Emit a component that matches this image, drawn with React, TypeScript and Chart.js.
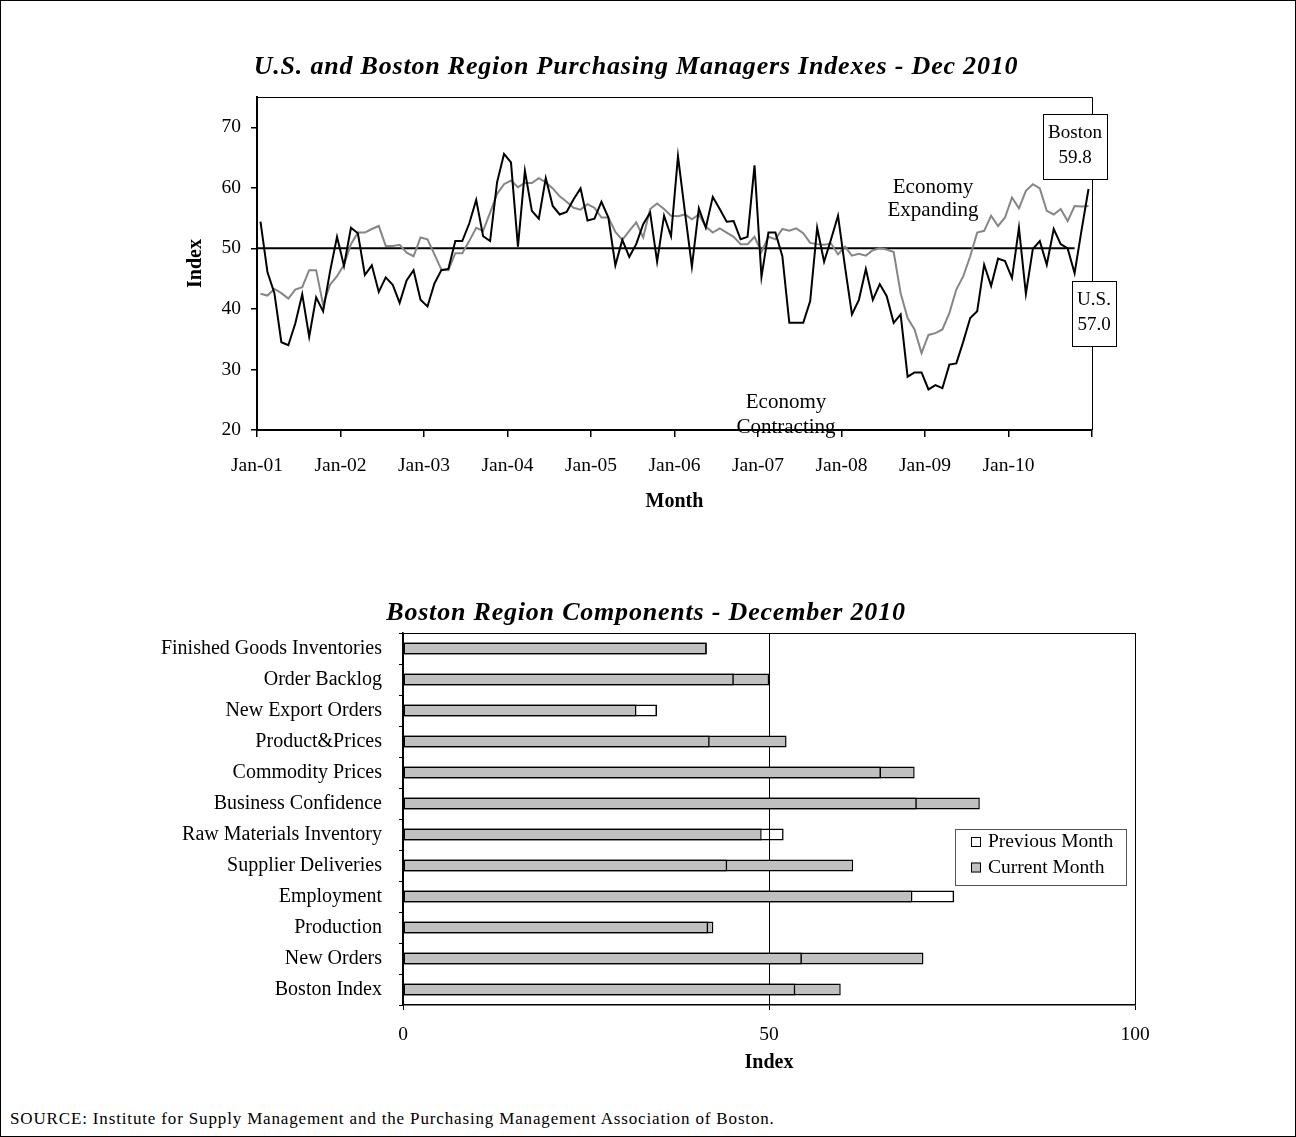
import { useEffect, useRef } from 'react';
import { Chart, registerables } from 'chart.js';

Chart.register(...registerables);

const SERIF = '"Liberation Serif", "Times New Roman", Times, serif';

// ---------------- Top chart: monthly PMI, Jan-01 .. Dec-10 ----------------
const monthTickLabels = ['Jan-01', 'Jan-02', 'Jan-03', 'Jan-04', 'Jan-05', 'Jan-06', 'Jan-07', 'Jan-08', 'Jan-09', 'Jan-10'];
const indexTickValues = [20, 30, 40, 50, 60, 70];

const bostonPMI = [
  54.4, 46.1, 42.6, 34.5, 34.0, 37.6, 42.4, 35.4, 41.9, 39.6, 46.2, 51.9,
  47.1, 53.4, 52.5, 45.6, 47.2, 42.8, 45.2, 44.0, 41.0, 44.7, 46.4, 41.5,
  40.4, 44.2, 46.4, 46.6, 51.2, 51.2, 54.1, 58.0, 52.0, 51.2, 60.9, 65.6,
  64.2, 50.3, 62.8, 56.2, 54.9, 61.6, 57.0, 55.6, 56.0, 58.1, 59.9, 54.6,
  54.9, 57.7, 55.1, 47.2, 51.4, 48.6, 50.7, 54.0, 55.9, 47.8, 55.4, 52.0,
  65.2, 56.0, 47.0, 56.6, 53.4, 58.5, 56.5, 54.4, 54.5, 51.5, 51.9, 63.7,
  45.3, 52.6, 52.6, 48.7, 37.7, 37.7, 37.7, 41.3, 53.4, 47.8, 51.5, 55.4,
  47.0, 39.1, 41.5, 46.6, 41.5, 44.1, 42.1, 37.7, 39.1, 28.8, 29.5, 29.5,
  26.7, 27.4, 26.9, 30.8, 31.0, 34.6, 38.5, 39.6, 47.3, 43.8, 48.3, 47.9,
  45.1, 53.4, 42.5, 49.9, 51.2, 47.3, 53.2, 50.7, 50.0, 45.9, 53.0, 59.8,
];

const usPMI = [
  42.5, 42.2, 43.3, 42.6, 41.7, 43.2, 43.6, 46.4, 46.4, 40.7, 44.0, 45.4,
  47.3, 50.7, 52.6, 52.6, 53.2, 53.7, 50.4, 50.4, 50.6, 49.3, 48.7, 51.8,
  51.5, 49.0, 46.5, 46.4, 49.2, 49.2, 51.2, 53.4, 52.9, 55.9, 59.0, 60.6,
  61.2, 60.1, 60.8, 60.8, 61.6, 60.9, 59.9, 58.6, 57.7, 56.7, 56.4, 57.3,
  56.7, 55.1, 55.1, 52.7, 51.4, 52.9, 54.3, 51.8, 56.5, 57.4, 56.5, 55.4,
  55.3, 55.6, 54.8, 55.6, 53.6, 52.6, 53.3, 52.6, 51.9, 50.7, 50.7, 51.9,
  49.4, 51.9, 51.5, 53.2, 52.9, 53.3, 52.5, 50.9, 50.7, 50.6, 50.8, 49.0,
  50.3, 48.8, 49.1, 48.8, 49.7, 50.0, 49.8, 49.4, 42.6, 38.5, 36.6, 32.7,
  35.7, 36.0, 36.6, 39.3, 43.2, 45.4, 48.7, 52.6, 52.9, 55.4, 53.7, 55.1,
  58.4, 56.6, 59.5, 60.6, 59.9, 56.2, 55.6, 56.5, 54.5, 57.0, 56.9, 57.0,
];

const expansionThreshold = 50;
const thresholdLastMonth = 117;
const bostonLatest = '59.8';
const usLatest = '57.0';

// ---------------- Bottom chart: Boston components, Dec 2010 ----------------
const componentNames = [
  'Finished Goods Inventories',
  'Order Backlog',
  'New Export Orders',
  'Product&Prices',
  'Commodity Prices',
  'Business Confidence',
  'Raw Materials Inventory',
  'Supplier Deliveries',
  'Employment',
  'Production',
  'New Orders',
  'Boston Index',
];
const previousMonth = [41.5, 45.2, 34.7, 41.9, 65.3, 70.2, 52.0, 44.3, 75.3, 41.7, 54.5, 53.6];
const currentMonth = [41.5, 50.0, 31.9, 52.4, 69.9, 78.8, 49.0, 61.5, 69.6, 42.4, 71.1, 59.8];
const componentTickValues = [0, 50, 100];

const TOP_H = 540;
const BOTTOM_H = 560;

function drawText(
  ctx: CanvasRenderingContext2D,
  text: string,
  x: number,
  y: number,
  font: string,
  align: CanvasTextAlign = 'center',
  spacing = 0,
) {
  ctx.save();
  ctx.font = font;
  (ctx as any).letterSpacing = `${spacing}px`;
  ctx.fillStyle = '#000';
  ctx.textAlign = align;
  ctx.textBaseline = 'middle';
  ctx.fillText(text, x, y);
  ctx.restore();
}

function drawFrame(chart: any) {
  const { ctx, chartArea: a } = chart;
  ctx.save();
  ctx.strokeStyle = '#000';
  ctx.lineWidth = 1;
  ctx.beginPath();
  ctx.moveTo(a.left, Math.round(a.top) + 0.5);
  ctx.lineTo(Math.round(a.right) + 0.5, Math.round(a.top) + 0.5);
  ctx.lineTo(Math.round(a.right) + 0.5, a.bottom);
  ctx.stroke();
  ctx.restore();
}

function drawCallout(ctx: CanvasRenderingContext2D, x: number, y: number, w: number, h: number, l1: string, l2: string) {
  ctx.save();
  ctx.fillStyle = '#fff';
  ctx.fillRect(x, y, w, h);
  ctx.strokeStyle = '#000';
  ctx.lineWidth = 1;
  ctx.strokeRect(x + 0.5, y + 0.5, w, h);
  ctx.restore();
  const f = `19px ${SERIF}`;
  drawText(ctx, l1, x + w / 2, y + h * 0.29, f);
  drawText(ctx, l2, x + w / 2, y + h * 0.68, f);
}

export default function App() {
  const topRef = useRef<HTMLCanvasElement | null>(null);
  const bottomRef = useRef<HTMLCanvasElement | null>(null);

  useEffect(() => {
    if (!topRef.current || !bottomRef.current) return;

    const topDecor = {
      id: 'topDecor',
      afterDraw(chart: any) {
        const ctx = chart.ctx as CanvasRenderingContext2D;
        drawFrame(chart);
        drawText(ctx, 'U.S. and Boston Region Purchasing Managers Indexes - Dec 2010', 636, 67, `italic bold 26px ${SERIF}`, 'center', 0.8);
        const ann = `21px ${SERIF}`;
        drawText(ctx, 'Economy', 933, 187, ann);
        drawText(ctx, 'Expanding', 933, 210, ann);
        drawText(ctx, 'Economy', 786, 402, ann);
        drawText(ctx, 'Contracting', 786, 427, ann);
        drawCallout(ctx, 1043, 114, 64, 65, 'Boston', bostonLatest);
        drawCallout(ctx, 1072, 281, 44, 65, 'U.S.', usLatest);
      },
    };

    const topChart = new Chart(topRef.current, {
      type: 'line',
      data: {
        datasets: [
          {
            label: 'Boston',
            data: bostonPMI.map((v, i) => ({ x: i, y: v })),
            borderColor: '#000',
            borderWidth: 2,
            pointRadius: 0,
            tension: 0,
            fill: false,
          },
          {
            label: 'U.S.',
            data: usPMI.map((v, i) => ({ x: i, y: v })),
            borderColor: '#868686',
            borderWidth: 2,
            pointRadius: 0,
            tension: 0,
            fill: false,
          },
          {
            label: 'Expansion threshold',
            data: [
              { x: -0.5, y: expansionThreshold },
              { x: thresholdLastMonth, y: expansionThreshold },
            ],
            borderColor: '#000',
            borderWidth: 2,
            pointRadius: 0,
            fill: false,
          },
        ],
      },
      options: {
        responsive: false,
        animation: false,
        devicePixelRatio: 1,
        layout: { padding: { top: 97, right: 204, bottom: 20, left: 0 } },
        plugins: {
          legend: { display: false },
          tooltip: { enabled: false },
        },
        scales: {
          x: {
            type: 'linear',
            min: -0.5,
            max: 119.5,
            afterBuildTicks: (s: any) => {
              s.ticks = Array.from({ length: monthTickLabels.length + 1 }, (_, k) => ({ value: -0.5 + 12 * k }));
            },
            afterFit: (s: any) => {
              s.height = 90;
            },
            ticks: {
              autoSkip: false,
              maxRotation: 0,
              padding: 17,
              color: '#000',
              font: { family: SERIF, size: 19.5 },
              callback: (_v: any, idx: number) => monthTickLabels[idx] ?? '',
            },
            grid: { drawOnChartArea: false, tickLength: 7, color: '#000', lineWidth: 1.5 },
            border: { color: '#000', width: 2 },
            title: {
              display: true,
              text: 'Month',
              color: '#000',
              font: { family: SERIF, size: 20, weight: 'bold' },
              padding: { top: 0, bottom: 6 },
            },
          },
          y: {
            type: 'linear',
            min: 20,
            max: 75,
            afterBuildTicks: (s: any) => {
              s.ticks = indexTickValues.map((v) => ({ value: v }));
            },
            afterFit: (s: any) => {
              s.width = 257;
            },
            ticks: {
              padding: 10,
              color: '#000',
              font: { family: SERIF, size: 19.5 },
            },
            grid: { drawOnChartArea: false, tickLength: 6, color: '#000', lineWidth: 1.5 },
            border: { color: '#000', width: 2 },
            title: {
              display: true,
              text: 'Index',
              color: '#000',
              font: { family: SERIF, size: 20, weight: 'bold' },
              padding: { top: 184, bottom: 0 },
            },
          },
        },
      },
      plugins: [topDecor],
    } as any);

    const BY = 540; // page offset of bottom canvas
    const bottomDecor = {
      id: 'bottomDecor',
      afterDraw(chart: any) {
        const ctx = chart.ctx as CanvasRenderingContext2D;
        drawFrame(chart);
        drawText(ctx, 'Boston Region Components - December 2010', 646, 613 - BY, `italic bold 26px ${SERIF}`, 'center', 0.8);
        // legend
        const lx = 955, ly = 829 - BY, lw = 171, lh = 56;
        ctx.save();
        ctx.fillStyle = '#fff';
        ctx.fillRect(lx, ly, lw, lh);
        ctx.strokeStyle = '#555';
        ctx.lineWidth = 1;
        ctx.strokeRect(lx + 0.5, ly + 0.5, lw, lh);
        ctx.restore();
        const ds = chart.data.datasets;
        const rows = [ly + 13, ly + 38.5];
        ds.forEach((d: any, i: number) => {
          const cy = rows[i];
          ctx.save();
          ctx.fillStyle = i === 0 ? '#fff' : d.backgroundColor;
          ctx.fillRect(971, cy - 5, 10, 10);
          ctx.strokeStyle = '#000';
          ctx.lineWidth = 1;
          ctx.strokeRect(971.5, cy - 4.5, 9, 9);
          ctx.restore();
          drawText(ctx, d.label, 988, cy, `19.5px ${SERIF}`, 'left');
        });
      },
    };

    const bottomChart = new Chart(bottomRef.current, {
      type: 'bar',
      data: {
        labels: componentNames,
        datasets: [
          {
            label: 'Previous Month',
            data: previousMonth,
            backgroundColor: 'rgba(255,255,255,0)',
            borderColor: '#000',
            borderWidth: 1.5,
            borderSkipped: false,
            grouped: false,
            barPercentage: 0.39,
            categoryPercentage: 1,
          },
          {
            label: 'Current Month',
            data: currentMonth,
            backgroundColor: '#c0c0c0',
            borderColor: '#000',
            borderWidth: 1.5,
            borderSkipped: false,
            grouped: false,
            barPercentage: 0.39,
            categoryPercentage: 1,
          },
        ],
      },
      options: {
        indexAxis: 'y',
        responsive: false,
        animation: false,
        devicePixelRatio: 1,
        layout: { padding: { top: 93, right: 161, bottom: 15, left: 0 } },
        plugins: {
          legend: { display: false },
          tooltip: { enabled: false },
        },
        scales: {
          x: {
            type: 'linear',
            min: 0,
            max: 100,
            afterBuildTicks: (s: any) => {
              s.ticks = componentTickValues.map((v) => ({ value: v }));
            },
            afterFit: (s: any) => {
              s.height = 80;
            },
            ticks: {
              padding: 13,
              maxRotation: 0,
              color: '#000',
              font: { family: SERIF, size: 19.5 },
            },
            grid: { color: '#000', lineWidth: 1, tickLength: 5 },
            border: { color: '#000', width: 1.5 },
            title: {
              display: true,
              text: 'Index',
              color: '#000',
              font: { family: SERIF, size: 20, weight: 'bold' },
              padding: { top: 0, bottom: 10 },
            },
          },
          y: {
            type: 'category',
            afterFit: (s: any) => {
              s.width = 403;
            },
            ticks: {
              autoSkip: false,
              padding: 17,
              color: '#000',
              font: { family: SERIF, size: 20 },
            },
            grid: { drawOnChartArea: false, tickLength: 4, color: '#000', lineWidth: 1, offset: true },
            border: { color: '#000', width: 1.5 },
          },
        },
      },
      plugins: [bottomDecor],
    } as any);

    return () => {
      topChart.destroy();
      bottomChart.destroy();
    };
  }, []);

  return (
    <div style={{ position: 'absolute', left: 0, top: 0, width: 1296, height: 1137, background: '#fff', overflow: 'hidden' }}>
      <canvas ref={topRef} width={1296} height={TOP_H} style={{ position: 'absolute', left: 0, top: 0, width: 1296, height: TOP_H }} />
      <canvas ref={bottomRef} width={1296} height={BOTTOM_H} style={{ position: 'absolute', left: 0, top: 540, width: 1296, height: BOTTOM_H }} />
      <div
        style={{
          position: 'absolute',
          left: 10,
          top: 1109,
          fontFamily: SERIF,
          fontSize: 17,
          letterSpacing: '0.85px',
          lineHeight: '20px',
          color: '#000',
          whiteSpace: 'nowrap',
        }}
      >
        SOURCE: Institute for Supply Management and the Purchasing Management Association of Boston.
      </div>
      <div
        style={{
          position: 'absolute',
          left: 0,
          top: 0,
          width: 1296,
          height: 1137,
          boxSizing: 'border-box',
          border: '1px solid #000',
          pointerEvents: 'none',
        }}
      />
    </div>
  );
}
